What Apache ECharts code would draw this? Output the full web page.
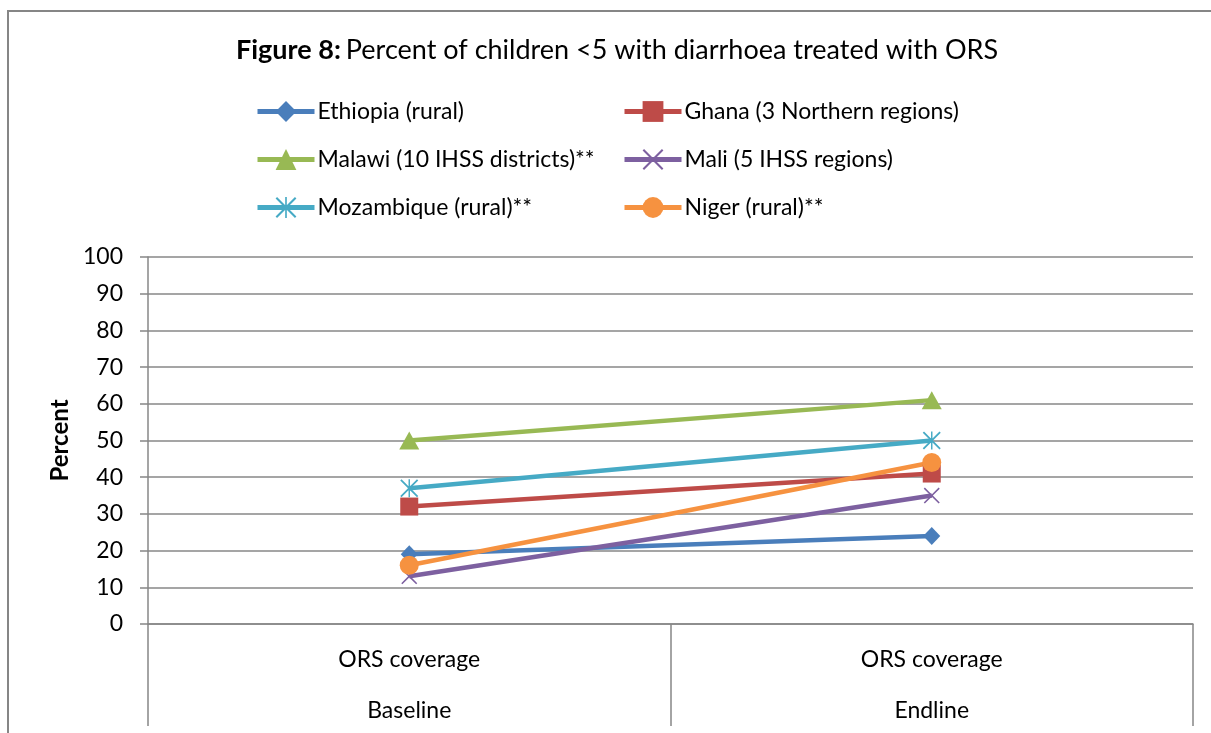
<!DOCTYPE html>
<html>
<head>
<meta charset="utf-8">
<script src="https://cdn.jsdelivr.net/npm/echarts@6/dist/echarts.min.js"></script>
<style>
  html, body { margin: 0; padding: 0; background: #fff; }
  #chart { width: 1211px; height: 733px; }
</style>
</head>
<body>
<div id="chart"></div>
<script>
// Survey rounds on the category axis
const rounds = ['Baseline', 'Endline'];
const indicator = 'ORS coverage';

// Percent of children <5 with diarrhoea treated with ORS
const ethiopia = [19, 24];
const ghana = [32, 41];
const malawi = [50, 61];
const mali = [13, 35];
const mozambique = [37, 50];
const niger = [16, 44];

const yTicks = { min: 0, max: 100, interval: 10 };

const FONT = 'Lato, "Open Sans", sans-serif';
const GRID = '#878787';

// Custom marker shapes (filled paths)
const xMark = 'path://M0,7 L7,0 L50,43 L93,0 L100,7 L57,50 L100,93 L93,100 L50,57 L7,100 L0,93 L43,50 Z';
const starMark = xMark + ' M46,0 L54,0 L54,100 L46,100 Z';

function makeSeries(name, data, color, symbol, size) {
  return {
    name: name,
    type: 'line',
    data: data,
    symbol: symbol,
    symbolSize: size,
    showSymbol: true,
    lineStyle: { color: color, width: 4.5 },
    itemStyle: { color: color },
    emphasis: { disabled: true },
    animation: false,
    z: 3
  };
}

const series = [
  makeSeries('Ethiopia (rural)', ethiopia, '#4a7ebb', 'diamond', [17, 18]),
  makeSeries('Ghana (3 Northern regions)', ghana, '#be4b48', 'rect', 18),
  makeSeries('Malawi (10 IHSS districts)**', malawi, '#98b954', 'triangle', [20, 18]),
  makeSeries('Mali (5 IHSS regions)', mali, '#7d60a0', xMark, 16),
  makeSeries('Mozambique (rural)**', mozambique, '#46aac5', starMark, 18),
  makeSeries('Niger (rural)**', niger, '#f69240', 'circle', 19)
];

const legendBase = {
  orient: 'vertical',
  top: 95,
  itemWidth: 57,
  itemHeight: 26,
  itemGap: 25,
  selectedMode: false,
  lineStyle: { width: 5 },
  textStyle: { fontFamily: FONT, fontSize: 23, color: '#000', padding: [0, 0, 0, -2] }
};

const chart = echarts.init(document.getElementById('chart'), null, { renderer: 'canvas' });
chart.setOption({
  backgroundColor: '#fff',
  animation: false,
  title: {
    text: '{b|Figure 8:} {n|Percent of children <5 with diarrhoea treated with ORS}',
    left: 231,
    top: 32,
    textStyle: {
      fontWeight: 'normal',
      rich: {
        b: { fontFamily: FONT, fontSize: 27, fontWeight: 'bold', color: '#000' },
        n: { fontFamily: FONT, fontSize: 27, fontWeight: 'normal', color: '#000' }
      }
    }
  },
  legend: [
    Object.assign({}, legendBase, {
      left: 250,
      data: ['Ethiopia (rural)', 'Malawi (10 IHSS districts)**', 'Mozambique (rural)**']
    }),
    Object.assign({}, legendBase, {
      left: 617,
      data: ['Ghana (3 Northern regions)', 'Mali (5 IHSS regions)', 'Niger (rural)**']
    })
  ],
  grid: { left: 148, right: 18, top: 257, bottom: 109, containLabel: false },
  xAxis: {
    type: 'category',
    data: rounds,
    boundaryGap: true,
    axisLine: { lineStyle: { color: GRID, width: 1.5 } },
    axisTick: { show: true, interval: 0, length: 102, lineStyle: { color: GRID, width: 1.5 } },
    axisLabel: {
      interval: 0,
      margin: 10,
      formatter: function (v) { return '{a|' + indicator + '}\n{b|' + v + '}'; },
      rich: {
        a: { fontFamily: FONT, fontSize: 23, color: '#000', lineHeight: 51 },
        b: { fontFamily: FONT, fontSize: 23, color: '#000', lineHeight: 51 }
      }
    },
    splitLine: { show: false }
  },
  yAxis: {
    type: 'value',
    min: yTicks.min,
    max: yTicks.max,
    interval: yTicks.interval,
    name: 'Percent',
    nameLocation: 'middle',
    nameRotate: 90,
    nameGap: 74,
    nameTextStyle: { fontFamily: FONT, fontSize: 24, fontWeight: 'bold', color: '#000' },
    axisLine: { show: true, lineStyle: { color: GRID, width: 1.5 } },
    axisTick: { show: true, inside: false, length: 8, lineStyle: { color: GRID, width: 1.5 } },
    axisLabel: { fontFamily: FONT, fontSize: 23, color: '#000', margin: 25 },
    splitLine: { show: true, lineStyle: { color: GRID, width: 1.5 } }
  },
  graphic: [
    {
      type: 'rect',
      shape: { x: 8, y: 11, width: 1300, height: 800 },
      style: { fill: 'none', stroke: '#868686', lineWidth: 2 },
      silent: true,
      z: -1
    }
  ],
  series: series
});
</script>
</body>
</html>
